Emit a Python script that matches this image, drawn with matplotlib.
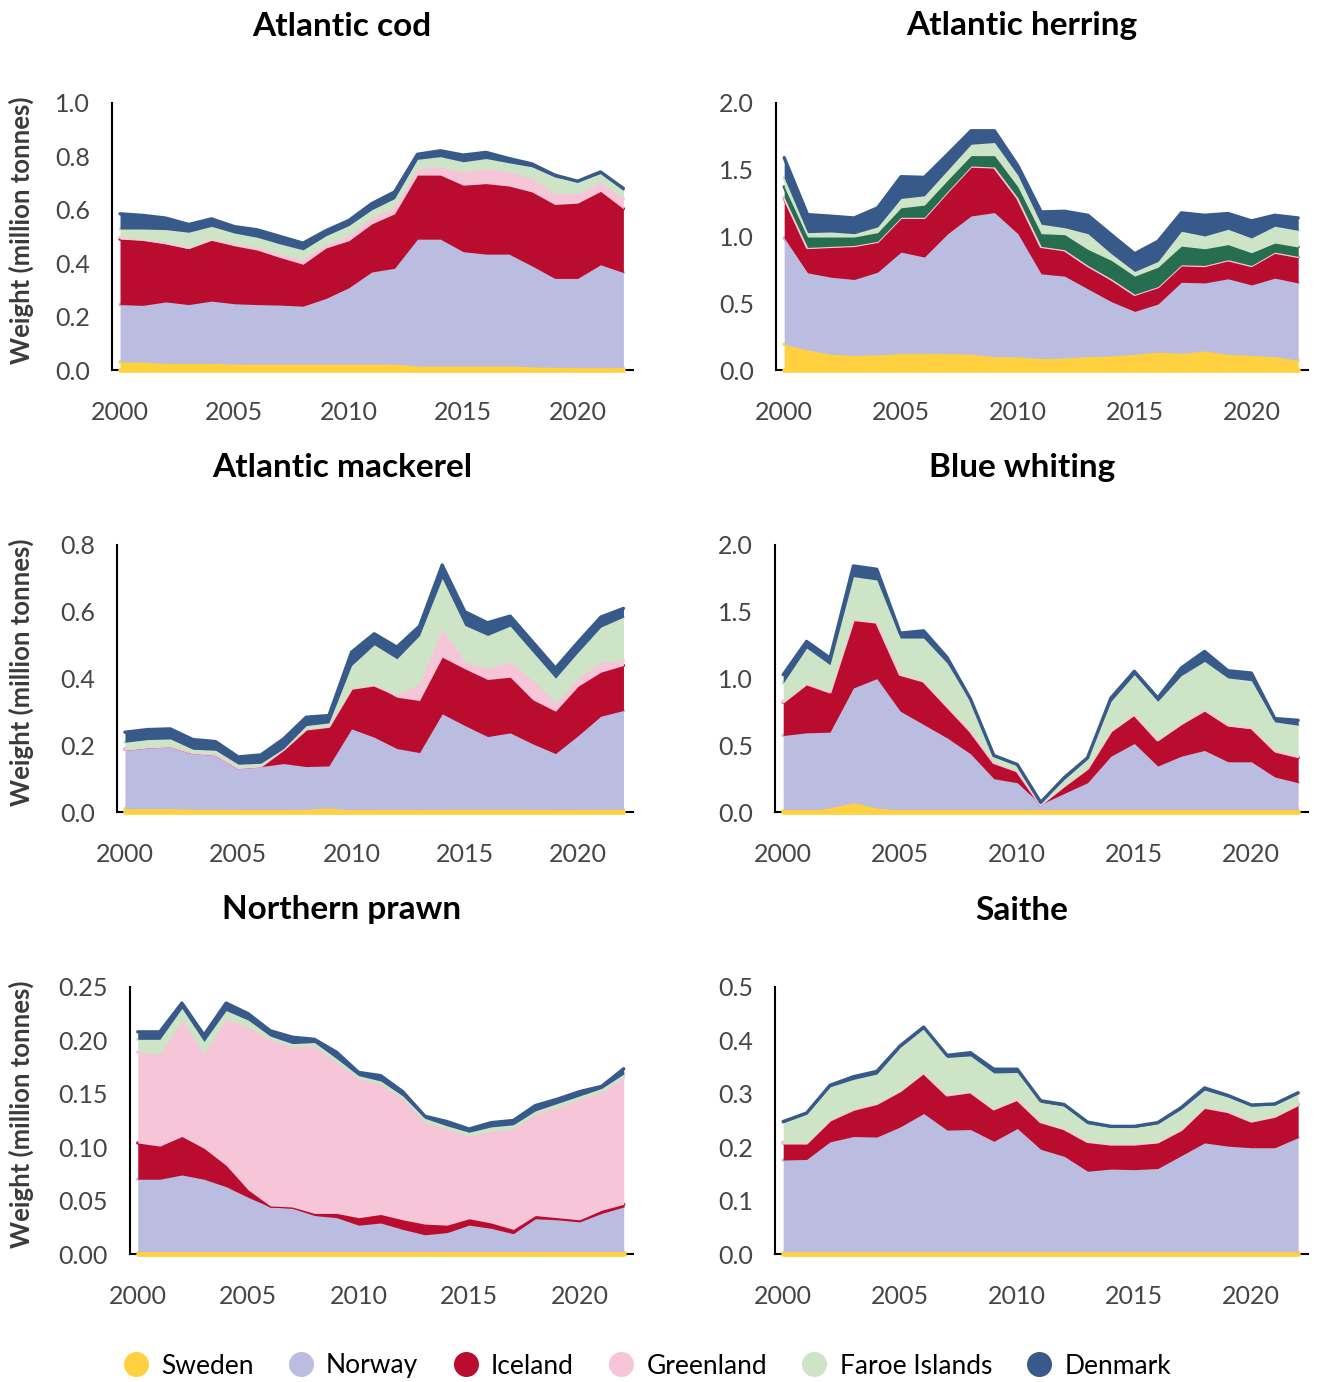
import matplotlib
matplotlib.use("Agg")
import matplotlib.pyplot as plt
from matplotlib.lines import Line2D
from matplotlib.ticker import FormatStrFormatter

plt.rcParams['font.family'] = ['Lato', 'DejaVu Sans']

years = list(range(2000, 2023))
countries = ['Sweden', 'Norway', 'Iceland', 'Greenland', 'Faroe Islands', 'Denmark']
colors = ['#FFD03F', '#BBBDE0', '#BA0C2F', '#F6C6D8', '#CDE4C7', '#375A8A']
other_color = '#276E50'

# catches per country, million tonnes
cod_sweden = [0.03, 0.03, 0.025, 0.025, 0.025, 0.022, 0.022, 0.022, 0.022, 0.022, 0.022, 0.022, 0.022, 0.015, 0.015, 0.015, 0.015, 0.015, 0.012, 0.01, 0.008, 0.008, 0.008]
cod_norway = [0.215, 0.212, 0.23, 0.22, 0.233, 0.226, 0.223, 0.221, 0.217, 0.246, 0.286, 0.345, 0.359, 0.475, 0.475, 0.428, 0.419, 0.419, 0.378, 0.333, 0.335, 0.386, 0.357]
cod_iceland = [0.245, 0.244, 0.217, 0.21, 0.229, 0.217, 0.204, 0.178, 0.157, 0.189, 0.176, 0.18, 0.204, 0.24, 0.24, 0.249, 0.264, 0.255, 0.277, 0.277, 0.282, 0.275, 0.239]
cod_greenland = [0.007, 0.004, 0.006, 0.004, 0.003, 0.007, 0.01, 0.013, 0.019, 0.015, 0.019, 0.025, 0.025, 0.025, 0.031, 0.05, 0.057, 0.053, 0.05, 0.04, 0.035, 0.035, 0.038]
cod_faroe = [0.031, 0.038, 0.048, 0.057, 0.048, 0.041, 0.038, 0.038, 0.035, 0.031, 0.038, 0.028, 0.032, 0.034, 0.038, 0.038, 0.037, 0.034, 0.044, 0.063, 0.044, 0.032, 0.031]
cod_denmark = [0.057, 0.051, 0.043, 0.029, 0.028, 0.024, 0.028, 0.028, 0.025, 0.019, 0.019, 0.023, 0.025, 0.019, 0.022, 0.025, 0.023, 0.016, 0.011, 0.007, 0.003, 0.006, 0.007]

herring_sweden = [0.193, 0.15, 0.118, 0.11, 0.113, 0.125, 0.125, 0.123, 0.118, 0.1, 0.098, 0.085, 0.09, 0.1, 0.105, 0.118, 0.135, 0.125, 0.143, 0.118, 0.11, 0.1, 0.073]
herring_norway = [0.796, 0.578, 0.577, 0.568, 0.62, 0.758, 0.721, 0.898, 1.036, 1.079, 0.923, 0.635, 0.613, 0.507, 0.407, 0.321, 0.359, 0.532, 0.509, 0.565, 0.527, 0.588, 0.579]
herring_iceland = [0.301, 0.185, 0.226, 0.25, 0.226, 0.256, 0.293, 0.314, 0.369, 0.337, 0.264, 0.201, 0.193, 0.171, 0.166, 0.123, 0.126, 0.126, 0.126, 0.138, 0.141, 0.19, 0.194]
herring_greenland = [0.005, 0.005, 0.005, 0.005, 0.005, 0.005, 0.005, 0.005, 0.005, 0.005, 0.005, 0.005, 0.005, 0.005, 0.005, 0.005, 0.005, 0.005, 0.005, 0.005, 0.005, 0.005, 0.005]
herring_other = [0.078, 0.078, 0.07, 0.063, 0.065, 0.071, 0.091, 0.083, 0.078, 0.085, 0.083, 0.095, 0.113, 0.12, 0.138, 0.136, 0.145, 0.14, 0.125, 0.113, 0.095, 0.068, 0.07]
herring_faroe = [0.067, 0.033, 0.038, 0.025, 0.043, 0.07, 0.07, 0.075, 0.085, 0.098, 0.087, 0.071, 0.052, 0.118, 0.05, 0.035, 0.043, 0.111, 0.096, 0.115, 0.111, 0.126, 0.125]
herring_denmark = [0.151, 0.135, 0.118, 0.118, 0.143, 0.163, 0.138, 0.118, 0.101, 0.088, 0.071, 0.092, 0.123, 0.138, 0.143, 0.133, 0.151, 0.138, 0.155, 0.118, 0.128, 0.082, 0.093]

mackerel_sweden = [0.01, 0.01, 0.01, 0.008, 0.008, 0.006, 0.006, 0.006, 0.008, 0.012, 0.006, 0.006, 0.008, 0.006, 0.008, 0.008, 0.008, 0.008, 0.008, 0.006, 0.006, 0.008, 0.008]
mackerel_norway = [0.178, 0.185, 0.188, 0.17, 0.165, 0.127, 0.13, 0.139, 0.128, 0.126, 0.243, 0.218, 0.182, 0.172, 0.286, 0.251, 0.218, 0.229, 0.196, 0.169, 0.223, 0.279, 0.296]
mackerel_iceland = [0.0, 0.0, 0.0, 0.0, 0.0, 0.0, 0.002, 0.043, 0.113, 0.119, 0.122, 0.157, 0.154, 0.156, 0.17, 0.17, 0.171, 0.167, 0.132, 0.127, 0.148, 0.132, 0.135]
mackerel_greenland = [0.0, 0.0, 0.0, 0.0, 0.0, 0.0, 0.0, 0.0, 0.0, 0.0, 0.0, 0.0, 0.008, 0.05, 0.085, 0.02, 0.034, 0.045, 0.058, 0.024, 0.024, 0.03, 0.015]
mackerel_faroe = [0.021, 0.022, 0.021, 0.01, 0.012, 0.01, 0.008, 0.002, 0.01, 0.01, 0.068, 0.12, 0.107, 0.145, 0.151, 0.11, 0.098, 0.108, 0.085, 0.075, 0.078, 0.105, 0.13]
mackerel_denmark = [0.03, 0.03, 0.03, 0.029, 0.026, 0.022, 0.025, 0.029, 0.025, 0.022, 0.04, 0.033, 0.035, 0.028, 0.04, 0.041, 0.038, 0.03, 0.03, 0.03, 0.03, 0.03, 0.026]

whiting_sweden = [0.008, 0.008, 0.03, 0.07, 0.03, 0.012, 0.008, 0.008, 0.008, 0.008, 0.008, 0.008, 0.008, 0.008, 0.008, 0.008, 0.008, 0.008, 0.008, 0.008, 0.008, 0.008, 0.008]
whiting_norway = [0.565, 0.585, 0.568, 0.859, 0.969, 0.743, 0.647, 0.547, 0.428, 0.241, 0.211, 0.049, 0.131, 0.211, 0.41, 0.505, 0.336, 0.41, 0.453, 0.368, 0.368, 0.254, 0.211]
whiting_iceland = [0.249, 0.366, 0.299, 0.511, 0.421, 0.274, 0.324, 0.237, 0.169, 0.12, 0.087, 0.0, 0.055, 0.105, 0.187, 0.217, 0.194, 0.237, 0.294, 0.267, 0.247, 0.186, 0.187]
whiting_greenland = [0.003, 0.003, 0.003, 0.003, 0.003, 0.003, 0.003, 0.003, 0.003, 0.003, 0.003, 0.0, 0.003, 0.003, 0.003, 0.003, 0.003, 0.008, 0.015, 0.012, 0.012, 0.015, 0.015]
whiting_faroe = [0.141, 0.266, 0.203, 0.32, 0.315, 0.271, 0.321, 0.321, 0.221, 0.046, 0.04, 0.015, 0.047, 0.071, 0.221, 0.296, 0.288, 0.358, 0.358, 0.349, 0.349, 0.212, 0.229]
whiting_denmark = [0.063, 0.05, 0.05, 0.08, 0.08, 0.037, 0.054, 0.042, 0.018, 0.005, 0.007, 0.0, 0.012, 0.008, 0.025, 0.025, 0.025, 0.057, 0.075, 0.054, 0.057, 0.025, 0.037]

prawn_sweden = [0.002, 0.002, 0.002, 0.002, 0.002, 0.002, 0.002, 0.002, 0.002, 0.002, 0.002, 0.002, 0.002, 0.002, 0.002, 0.002, 0.002, 0.002, 0.002, 0.002, 0.002, 0.002, 0.002]
prawn_norway = [0.068, 0.068, 0.072, 0.068, 0.061, 0.051, 0.042, 0.041, 0.034, 0.032, 0.025, 0.027, 0.021, 0.016, 0.018, 0.025, 0.022, 0.017, 0.031, 0.03, 0.028, 0.036, 0.042]
prawn_iceland = [0.034, 0.031, 0.036, 0.029, 0.02, 0.007, 0.001, 0.001, 0.002, 0.004, 0.007, 0.008, 0.009, 0.01, 0.007, 0.006, 0.005, 0.004, 0.003, 0.002, 0.002, 0.003, 0.0025]
prawn_greenland = [0.085, 0.086, 0.109, 0.088, 0.137, 0.152, 0.156, 0.15, 0.157, 0.141, 0.13, 0.122, 0.113, 0.095, 0.09, 0.077, 0.086, 0.094, 0.095, 0.103, 0.113, 0.11, 0.119]
prawn_faroe = [0.012, 0.014, 0.011, 0.012, 0.008, 0.007, 0.003, 0.003, 0.003, 0.004, 0.003, 0.003, 0.003, 0.004, 0.003, 0.004, 0.004, 0.004, 0.003, 0.004, 0.003, 0.004, 0.003]
prawn_denmark = [0.007, 0.007, 0.005, 0.006, 0.007, 0.006, 0.005, 0.006, 0.003, 0.006, 0.003, 0.005, 0.004, 0.002, 0.004, 0.003, 0.004, 0.004, 0.005, 0.004, 0.004, 0.002, 0.005]

saithe_sweden = [0.003, 0.003, 0.003, 0.003, 0.003, 0.003, 0.003, 0.003, 0.003, 0.003, 0.003, 0.003, 0.003, 0.003, 0.003, 0.003, 0.003, 0.003, 0.003, 0.003, 0.003, 0.003, 0.003]
saithe_norway = [0.173, 0.174, 0.207, 0.217, 0.216, 0.235, 0.26, 0.229, 0.23, 0.208, 0.232, 0.193, 0.18, 0.152, 0.156, 0.155, 0.157, 0.181, 0.205, 0.199, 0.196, 0.196, 0.215]
saithe_iceland = [0.032, 0.031, 0.041, 0.051, 0.063, 0.068, 0.077, 0.066, 0.071, 0.061, 0.055, 0.052, 0.052, 0.056, 0.047, 0.048, 0.05, 0.049, 0.067, 0.065, 0.05, 0.059, 0.062]
saithe_greenland = [0.0, 0.0, 0.0, 0.0, 0.0, 0.0, 0.0, 0.0, 0.0, 0.0, 0.0, 0.0, 0.0, 0.0, 0.0, 0.0, 0.0, 0.0, 0.0, 0.0, 0.0, 0.0, 0.0]
saithe_faroe = [0.038, 0.054, 0.062, 0.056, 0.055, 0.081, 0.082, 0.07, 0.067, 0.067, 0.05, 0.036, 0.042, 0.033, 0.031, 0.031, 0.034, 0.038, 0.032, 0.027, 0.028, 0.021, 0.02]
saithe_denmark = [0.002, 0.002, 0.003, 0.005, 0.005, 0.003, 0.003, 0.004, 0.006, 0.007, 0.006, 0.003, 0.003, 0.003, 0.002, 0.002, 0.002, 0.003, 0.004, 0.003, 0.002, 0.002, 0.002]

# (title, layers bottom->top, y max, y step, tick format)
panels = [
    ('Atlantic cod',
     [(cod_sweden, colors[0]), (cod_norway, colors[1]), (cod_iceland, colors[2]),
      (cod_greenland, colors[3]), (cod_faroe, colors[4]), (cod_denmark, colors[5])],
     1.0, 0.2, '%.1f'),
    ('Atlantic herring',
     [(herring_sweden, colors[0]), (herring_norway, colors[1]), (herring_iceland, colors[2]),
      (herring_greenland, colors[3]), (herring_other, other_color), (herring_faroe, colors[4]),
      (herring_denmark, colors[5])],
     2.0, 0.5, '%.1f'),
    ('Atlantic mackerel',
     [(mackerel_sweden, colors[0]), (mackerel_norway, colors[1]), (mackerel_iceland, colors[2]),
      (mackerel_greenland, colors[3]), (mackerel_faroe, colors[4]), (mackerel_denmark, colors[5])],
     0.8, 0.2, '%.1f'),
    ('Blue whiting',
     [(whiting_sweden, colors[0]), (whiting_norway, colors[1]), (whiting_iceland, colors[2]),
      (whiting_greenland, colors[3]), (whiting_faroe, colors[4]), (whiting_denmark, colors[5])],
     2.0, 0.5, '%.1f'),
    ('Northern prawn',
     [(prawn_sweden, colors[0]), (prawn_norway, colors[1]), (prawn_iceland, colors[2]),
      (prawn_greenland, colors[3]), (prawn_faroe, colors[4]), (prawn_denmark, colors[5])],
     0.25, 0.05, '%.2f'),
    ('Saithe',
     [(saithe_sweden, colors[0]), (saithe_norway, colors[1]), (saithe_iceland, colors[2]),
      (saithe_greenland, colors[3]), (saithe_faroe, colors[4]), (saithe_denmark, colors[5])],
     0.5, 0.1, '%.1f'),
]

W, H = 1317, 1382
fig = plt.figure(figsize=(W / 100, H / 100), dpi=100)

# axes boxes in pixels: left, right, top, bottom
boxes = [(112, 633, 103, 370), (776, 1308, 103, 370),
         (117, 633, 545, 812), (775, 1308, 545, 812),
         (130, 633, 987, 1254), (775, 1308, 987, 1254)]
title_x = [342, 1022]

for i, (title, layers, ymax, ystep, fmt) in enumerate(panels):
    l, r, t, b = boxes[i]
    ax = fig.add_axes([l / W, 1 - b / H, (r - l) / W, (b - t) / H])
    base = [0.0] * len(years)
    # the bottom layer also gets a stroke along the baseline, over the axis line
    ax.plot(years, base, color=layers[0][1], lw=3.4, solid_capstyle='round',
            clip_on=False, zorder=30)
    for k, (vals, c) in enumerate(layers):
        top = [p + v for p, v in zip(base, vals)]
        ax.fill_between(years, base, top, color=c, lw=0, zorder=3 + 2 * k)
        ax.plot(years, top, color=c, lw=2.4, solid_capstyle='round',
                solid_joinstyle='round', clip_on=False, zorder=4 + 2 * k)
        base = top

    ax.set_xlim(1999.65, 2022.42)
    ax.set_ylim(0, ymax)
    n = int(round(ymax / ystep))
    ax.set_yticks([ystep * j for j in range(n + 1)])
    ax.yaxis.set_major_formatter(FormatStrFormatter(fmt))
    ax.set_xticks([2000, 2005, 2010, 2015, 2020])
    ax.tick_params(axis='both', length=0, labelsize=18, labelcolor='#454545')
    ax.tick_params(axis='y', pad=16)
    ax.tick_params(axis='x', pad=22)
    for s in ['top', 'right']:
        ax.spines[s].set_visible(False)
    for s in ['left', 'bottom']:
        ax.spines[s].set_linewidth(1.5)
        ax.spines[s].set_color('black')
        ax.spines[s].set_zorder(2)
    ax.patch.set_alpha(0)

    fig.text(title_x[i % 2] / W, 1 - (t - 77) / H, title, ha='center', va='center',
             fontsize=24, fontweight='bold', color='black')
    if i % 2 == 0:
        fig.text(21 / W, 1 - ((t + b) / 2 - 6) / H, 'Weight (million tonnes)',
                 rotation=90, ha='center', va='center', fontsize=18.5,
                 fontweight='bold', color='#3a3a3a')

handles = [Line2D([], [], ls='', marker='o', markersize=17, color=c) for c in colors]
fig.legend(handles, countries, loc='center', bbox_to_anchor=(647 / W, 1 - 1366 / H),
           ncol=6, frameon=False, fontsize=19, handlelength=1.0, handletextpad=0.45,
           columnspacing=1.3)

fig.savefig('out.png', dpi=100)
